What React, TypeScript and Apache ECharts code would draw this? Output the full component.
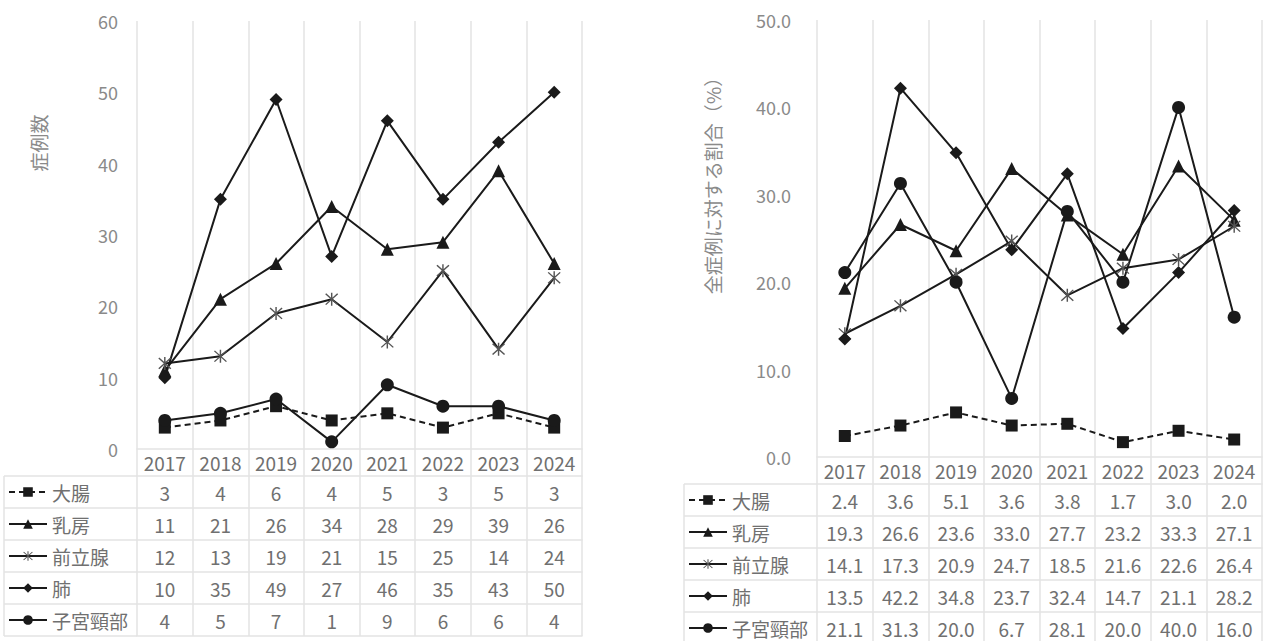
import React, { useEffect, useRef } from "react";
import * as echarts from "echarts";

// ---- data ----
const years = ["2017", "2018", "2019", "2020", "2021", "2022", "2023", "2024"];
const seriesNames = ["大腸", "乳房", "前立腺", "肺", "子宮頸部"];

const countColon = [3, 4, 6, 4, 5, 3, 5, 3];
const countBreast = [11, 21, 26, 34, 28, 29, 39, 26];
const countProstate = [12, 13, 19, 21, 15, 25, 14, 24];
const countLung = [10, 35, 49, 27, 46, 35, 43, 50];
const countCervix = [4, 5, 7, 1, 9, 6, 6, 4];

const pctColon = [2.4, 3.6, 5.1, 3.6, 3.8, 1.7, 3.0, 2.0];
const pctBreast = [19.3, 26.6, 23.6, 33.0, 27.7, 23.2, 33.3, 27.1];
const pctProstate = [14.1, 17.3, 20.9, 24.7, 18.5, 21.6, 22.6, 26.4];
const pctLung = [13.5, 42.2, 34.8, 23.7, 32.4, 14.7, 21.1, 28.2];
const pctCervix = [21.1, 31.3, 20.0, 6.7, 28.1, 20.0, 40.0, 16.0];

const countAxisMax = 60;
const pctAxisMax = 50;
const axisStep = 10;

const countTitle = "症例数";
const pctTitle = "全症例に対する割合（%）";

// ---- styles ----
const FONT = '"Noto Sans CJK JP", "Noto Sans", sans-serif';
const gridColor = "#e3e3e3";
const tableText = "#707070";
const axisText = "#8a8a8a";
const lineColor = "#1a1a1a";
const asteriskPath =
  "path://M9 0H11V20H9Z M1 2.4L2.4 1L19 17.6L17.6 19Z M17.6 1L19 2.4L2.4 19L1 17.6Z";
const symbols = ["rect", "triangle", asteriskPath, "diamond", "circle"];
const symbolSizes = [12, 13, 13, 13, 13];

const panels = [
  {
    data: [countColon, countBreast, countProstate, countLung, countCervix],
    max: countAxisMax,
    decimals: 0,
    title: countTitle,
    gridLeft: 137,
    gridTop: 21,
    gridWidth: 445,
    gridHeight: 428,
    headerH: 27,
    rowH: 32,
    yLabelMargin: 19,
    colLeft: 4,
    legendLeft: 8,
    titleX: 38,
    titleY: 143,
  },
  {
    data: [pctColon, pctBreast, pctProstate, pctLung, pctCervix],
    max: pctAxisMax,
    decimals: 1,
    title: pctTitle,
    gridLeft: 817,
    gridTop: 20,
    gridWidth: 445,
    gridHeight: 437,
    headerH: 27,
    rowH: 32,
    yLabelMargin: 26,
    colLeft: 684,
    legendLeft: 688,
    titleX: 712,
    titleY: 181,
  },
];

function buildOption() {
  const grid: any[] = [];
  const xAxis: any[] = [];
  const yAxis: any[] = [];
  const series: any[] = [];
  const legend: any[] = [];
  const graphic: any[] = [];

  panels.forEach((p, pi) => {
    grid.push({
      left: p.gridLeft,
      top: p.gridTop,
      width: p.gridWidth,
      height: p.gridHeight,
      containLabel: false,
    });
    const mainIndex = xAxis.length;
    xAxis.push({
      type: "category",
      gridIndex: pi,
      data: years,
      boundaryGap: true,
      position: "bottom",
      axisLine: { show: true, lineStyle: { color: gridColor, width: 1.5 } },
      axisTick: { show: true, interval: 0, length: p.headerH, lineStyle: { color: gridColor, width: 1.5 } },
      axisLabel: {
        interval: 0,
        color: tableText,
        fontSize: 19,
        fontFamily: FONT,
        margin: p.headerH / 2,
        verticalAlign: "middle",
      },
      splitLine: { show: true, interval: 0, lineStyle: { color: gridColor, width: 1.5 } },
    });
    p.data.forEach((vals, ri) => {
      xAxis.push({
        type: "category",
        gridIndex: pi,
        data: years,
        boundaryGap: true,
        position: "bottom",
        offset: p.headerH + ri * p.rowH,
        axisLine: { show: true, lineStyle: { color: gridColor, width: 1.5 } },
        axisTick: { show: true, interval: 0, length: p.rowH, lineStyle: { color: gridColor, width: 1.5 } },
        axisLabel: {
          interval: 0,
          color: tableText,
          fontSize: 19,
          fontFamily: FONT,
          margin: p.rowH / 2,
          verticalAlign: "middle",
          formatter: (_v: string, idx: number) => vals[idx].toFixed(p.decimals),
        },
        splitLine: { show: false },
      });
    });
    xAxis.push({
      type: "category",
      gridIndex: pi,
      data: years,
      boundaryGap: true,
      position: "bottom",
      offset: p.headerH + p.data.length * p.rowH,
      axisLine: { show: true, lineStyle: { color: gridColor, width: 1.5 } },
      axisTick: { show: false },
      axisLabel: { show: false },
      splitLine: { show: false },
    });

    yAxis.push({
      type: "value",
      gridIndex: pi,
      min: 0,
      max: p.max,
      interval: axisStep,
      axisLine: { show: false },
      axisTick: { show: false },
      splitLine: { show: false },
      axisLabel: {
        color: axisText,
        fontSize: 18,
        fontFamily: FONT,
        margin: p.yLabelMargin,
        formatter: (v: number) => v.toFixed(p.decimals),
      },
    });

    p.data.forEach((vals, si) => {
      series.push({
        type: "line",
        name: seriesNames[si],
        xAxisIndex: mainIndex,
        yAxisIndex: pi,
        data: vals,
        symbol: symbols[si],
        symbolSize: symbolSizes[si],
        showSymbol: true,
        lineStyle: { color: lineColor, width: 2, type: si === 0 ? [6, 4] : "solid" },
        itemStyle: { color: si === 2 ? "#555555" : lineColor, borderWidth: 0 },
        emphasis: { disabled: true },
        z: 3,
      });
    });

    const rowTop = p.gridTop + p.gridHeight + p.headerH;
    legend.push({
      orient: "vertical",
      left: p.legendLeft,
      top: rowTop + (p.rowH - 20) / 2,
      data: seriesNames,
      itemWidth: 38,
      itemHeight: 12,
      itemGap: p.rowH - 20,
      padding: 0,
      selectedMode: false,
      textStyle: { color: tableText, fontSize: 19, fontFamily: FONT, lineHeight: 20 },
    });

    // left column cell borders
    const xR = p.gridLeft;
    for (let i = 0; i <= p.data.length; i++) {
      const y = rowTop + i * p.rowH;
      graphic.push({
        type: "line",
        silent: true,
        shape: { x1: p.colLeft, y1: y, x2: xR, y2: y },
        style: { stroke: gridColor, lineWidth: 1.5 },
      });
    }
    graphic.push({
      type: "line",
      silent: true,
      shape: { x1: p.colLeft, y1: rowTop, x2: p.colLeft, y2: rowTop + p.data.length * p.rowH },
      style: { stroke: gridColor, lineWidth: 1.5 },
    });

    graphic.push({
      type: "text",
      x: p.titleX,
      y: p.titleY,
      rotation: Math.PI / 2,
      silent: true,
      style: {
        text: p.title,
        fill: axisText,
        fontSize: 19,
        fontFamily: FONT,
        align: "center",
        verticalAlign: "middle",
      },
    });
  });

  return {
    animation: false,
    backgroundColor: "#ffffff",
    textStyle: { fontFamily: FONT },
    grid,
    xAxis,
    yAxis,
    series,
    legend,
    graphic,
  };
}

export default function App() {
  const ref = useRef<HTMLDivElement>(null);
  useEffect(() => {
    if (!ref.current) return;
    const chart = echarts.init(ref.current, undefined, { renderer: "svg" });
    chart.setOption(buildOption() as any);
    return () => chart.dispose();
  }, []);
  return (
    <div
      ref={ref}
      style={{ position: "fixed", left: 0, top: 0, width: 1264, height: 641, background: "#fff" }}
    />
  );
}
